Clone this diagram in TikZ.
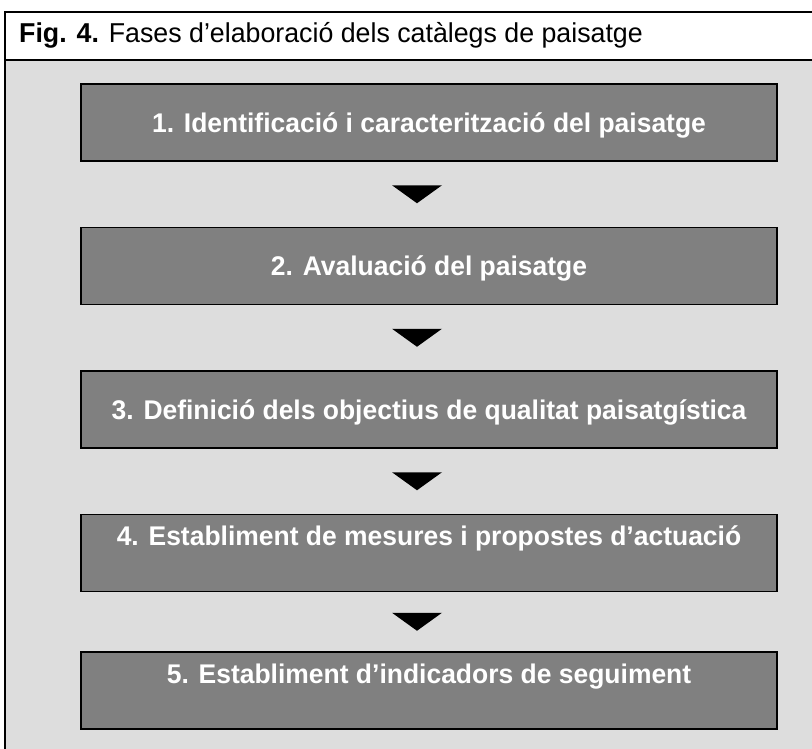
\documentclass[tikz,border=0pt]{standalone}
\usepackage{fontspec}
\newfontfamily\narrowsans[FakeStretch=0.98]{Liberation Sans}
\usetikzlibrary{calc}
\definecolor{panelgrey}{HTML}{DDDDDD}
\definecolor{boxgrey}{HTML}{808080}

\begin{document}
\begin{tikzpicture}[x=1pt,y=-1pt,node distance=143.5pt,
    phase node/.style={rectangle,draw=black,line width=1.8pt,fill=boxgrey,text=white,minimum width=696pt,inner xsep=0pt,inner ysep=0pt,font=\narrowsans\fontsize{27}{32}\selectfont\bfseries,text height=48.3pt,text depth=28.7pt},
    top text/.style={text height=31pt,text depth=46pt},
    pointer/.style={fill=black}]
    \useasboundingbox (0,0) rectangle (812,748);
    \clip (0,0) rectangle (812,748);

    % frame and title
    \fill[white] (5,12) rectangle (830,60);
    \fill[panelgrey] (5,60) rectangle (830,760);
    \draw[line width=1.8pt] (5,760) |- (830,12);
    \draw[line width=1.8pt] (5,60) -- (830,60);
    \node[anchor=west,inner sep=0pt,font=\narrowsans\fontsize{27.3}{32}\selectfont] (title) at (19,35) {\textbf{Fig. 4.} Fases d’elaboració dels catàlegs de paisatge};

    % phases
    \node[phase node] (1) at (429,122.5) {1. Identificació i caracterització del paisatge};
    \node[phase node] (2) [below of = 1] {2. Avaluació del paisatge};
    \node[phase node] (3) [below of = 2] {3. Definició dels objectius de qualitat paisatgística};
    \node[phase node,top text] (4) [below of = 3] {4. Establiment de mesures i propostes d’actuació};
    \node[phase node,top text] (5) [below of = 4,node distance=137.5pt] {5. Establiment d’indicadors de seguiment};

    % arrows
    \foreach \a/\b in {1/2,2/3,3/4,4/5}
        \fill[pointer] ($(\a.south)!0.5!(\b.north)+(-37,-9)$) -- ++(50,0) -- ++(-25,18) -- cycle;
\end{tikzpicture}
\end{document}
